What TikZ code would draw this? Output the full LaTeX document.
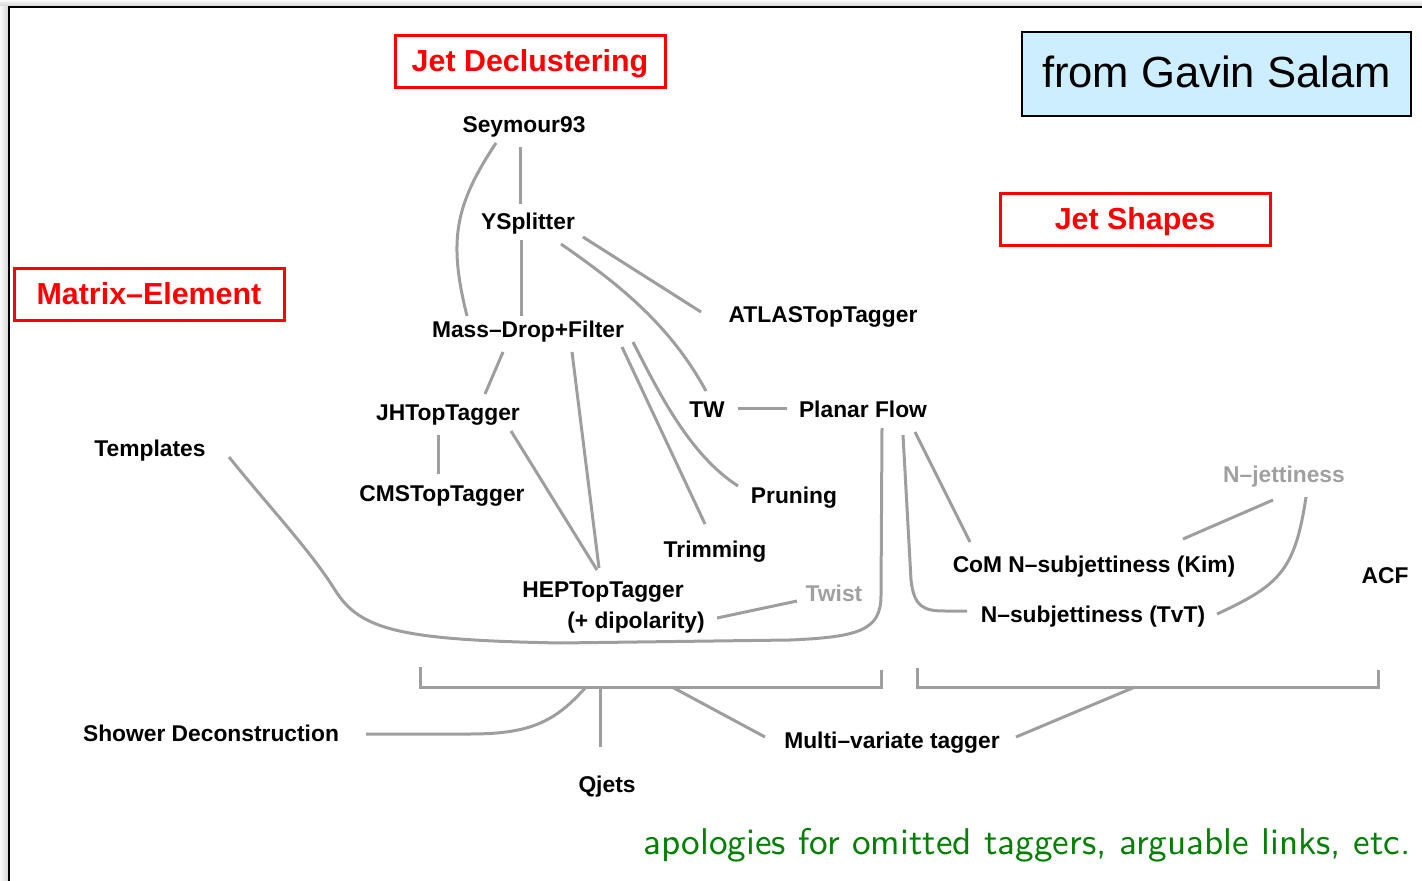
\documentclass[tikz,border=0pt]{standalone}
\usepackage{fontspec}
\newfontfamily\hv{Liberation Sans}
\newfontfamily\notefont{lmsans10-regular.otf}
\definecolor{linkgray}{RGB}{158,158,158}
\definecolor{faintgray}{RGB}{160,160,160}
\definecolor{boxcyan}{RGB}{204,238,255}
\definecolor{notegreen}{RGB}{0,128,0}
\begin{document}
\begin{tikzpicture}[x=0.5pt,y=-0.5pt,
  link/.style={draw=linkgray, line width=1.5pt},
  lbl/.style={font=\hv\bfseries\fontsize{11.4}{13}\selectfont, anchor=base, inner sep=0pt},
  faint/.style={lbl, text=faintgray},
  heading/.style={draw=red, fill=white, line width=1.5pt, text=red,
    font=\hv\bfseries\fontsize{15.2}{18}\selectfont,
    minimum width=135pt, minimum height=26pt, inner sep=0pt,
    text height=9.5pt, text depth=0pt},
  credit/.style={draw=black, fill=boxcyan, line width=1pt,
    font=\hv\fontsize{21.8}{26}\selectfont,
    minimum width=194.5pt, minimum height=42pt, inner sep=0pt,
    text height=13.6pt, text depth=0pt}]

\useasboundingbox (0,0) rectangle (1422,881);

% page frame with a soft shadow
\shade[left color=black!2, right color=black!16] (0,6) rectangle (8,881);
\shade[top color=black!2, bottom color=black!16] (0,0) rectangle (1422,6);
\draw[line width=1pt] (9,881) -- (9,7) -- (1422,7);

% headings
\node[heading] (jd) at (530,62) {Jet Declustering};
\node[heading] (me) at (149,295) {Matrix–Element};
\node[heading] (js) at (1135,220) {Jet Shapes};
\node[credit] (gs) at (1216.5,74) {from Gavin Salam};

% taggers
\node[lbl] (sey) at (524,133) {Seymour93};
\node[lbl] (ysp) at (528,230) {YSplitter};
\node[lbl] (mdf) at (528,338) {Mass–Drop+Filter};
\node[lbl] (atl) at (823,323) {ATLASTopTagger};
\node[lbl] (jht) at (448,421) {JHTopTagger};
\node[lbl] (tw)  at (707,417) {TW};
\node[lbl] (pf)  at (863,417) {Planar Flow};
\node[lbl] (tpl) at (150,457) {Templates};
\node[lbl] (cms) at (442,501) {CMSTopTagger};
\node[lbl] (prn) at (794,503) {Pruning};
\node[lbl] (trm) at (715,557) {Trimming};
\node[faint] (njet) at (1284,482) {N–jettiness};
\node[lbl] (kim) at (1094,572) {CoM N–subjettiness (Kim)};
\node[lbl] (acf) at (1385,583) {ACF};
\node[lbl] (hep) at (603,597) {HEPTopTagger};
\node[lbl] (dip) at (636,628) {(+ dipolarity)};
\node[faint] (twist) at (834,601) {Twist};
\node[lbl] (tvt) at (1093,622) {N–subjettiness (TvT)};
\node[lbl] (sd)  at (211,741) {Shower Deconstruction};
\node[lbl] (qj)  at (607,792) {Qjets};
\node[lbl] (mvt) at (892,748) {Multi–variate tagger};

% links between taggers
\draw[link] ([shift={(-28,10)}]sey.base) .. controls (455,205) and (448,240) .. ([shift={(-61,-22)}]mdf.base);
\draw[link] ([shift={(-4,14)}]sey.base) -- ([shift={(-8,-26)}]ysp.base);
\draw[link] ([shift={(-7,10)}]ysp.base) -- ([shift={(-7,-22)}]mdf.base);
\draw[link] ([shift={(55,7)}]ysp.base) -- ([shift={(-122,-11)}]atl.base);
\draw[link] ([shift={(33,14)}]ysp.base) .. controls (620,285) and (670,325) .. ([shift={(-1,-26)}]tw.base);
\draw[link] ([shift={(-25,14)}]mdf.base) -- ([shift={(37,-27)}]jht.base);
\draw[link] ([shift={(44,14)}]mdf.base) -- ([shift={(-4,-29)}]hep.base);
\draw[link] ([shift={(94,9)}]mdf.base) -- ([shift={(-10,-33)}]trm.base);
\draw[link] ([shift={(105,4)}]mdf.base) .. controls (660,395) and (690,455) .. ([shift={(-56,-17)}]prn.base);
\draw[link] ([shift={(-10,14)}]jht.base) -- ([shift={(-4,-27)}]cms.base);
\draw[link] ([shift={(63,10)}]jht.base) -- ([shift={(-6,-27)}]hep.base);
\draw[link] ([shift={(31,-8)}]tw.base) -- ([shift={(-76,-8)}]pf.base);
\draw[link] ([shift={(79,0)}]tpl.base) .. controls (270,508) and (310,550) .. (335,590)
  .. controls (360,630) and (400,640) .. (560,643) -- (790,640)
  .. controls (860,637) and (881,630) .. (881,595) -- ([shift={(19,11)}]pf.base);
\draw[link] ([shift={(81,-10)}]dip.base) -- ([shift={(-37,0)}]twist.base);
\draw[link] ([shift={(52,15)}]pf.base) -- ([shift={(-124,-30)}]kim.base);
\draw[link] ([shift={(40,18)}]pf.base) -- (911,580) .. controls (914,608) and (925,611) .. (945,611)
  -- ([shift={(-126,-11)}]tvt.base);
\draw[link] ([shift={(-11,18)}]njet.base) -- ([shift={(89,-33)}]kim.base);
\draw[link] ([shift={(22,15)}]njet.base) .. controls (1295,570) and (1280,585) .. ([shift={(124,-8)}]tvt.base);

% brackets grouping the two families
\coordinate (lbA) at (420,667);
\coordinate (lbB) at (881,670);
\coordinate (rbA) at (917,668);
\coordinate (rbB) at (1378,670);
\draw[link] (lbA) -- (lbA |- 0,687) -- (lbB |- 0,687) -- (lbB);
\draw[link] (rbA) -- (rbA |- 0,687) -- (rbB |- 0,687) -- (rbB);
\coordinate (lbS) at (586,687);
\coordinate (lbQ) at (600,687);
\coordinate (lbM) at (672,687);
\coordinate (rbM) at (1135,687);
\draw[link] (lbS) .. controls (555,722) and (530,734) .. (470,734) -- ([shift={(155,-7)}]sd.base);
\draw[link] (lbQ) -- ([shift={(-7,-45)}]qj.base);
\draw[link] (lbM) -- ([shift={(-127,-11)}]mvt.base);
\draw[link] (rbM) -- ([shift={(124,-11)}]mvt.base);

% closing remark
\node[anchor=base west, inner sep=0pt, text=notegreen, font=\notefont\fontsize{18.6}{22}\selectfont]
  (note) at (643,854) {apologies for omitted taggers, arguable links, etc.};
\end{tikzpicture}
\end{document}
